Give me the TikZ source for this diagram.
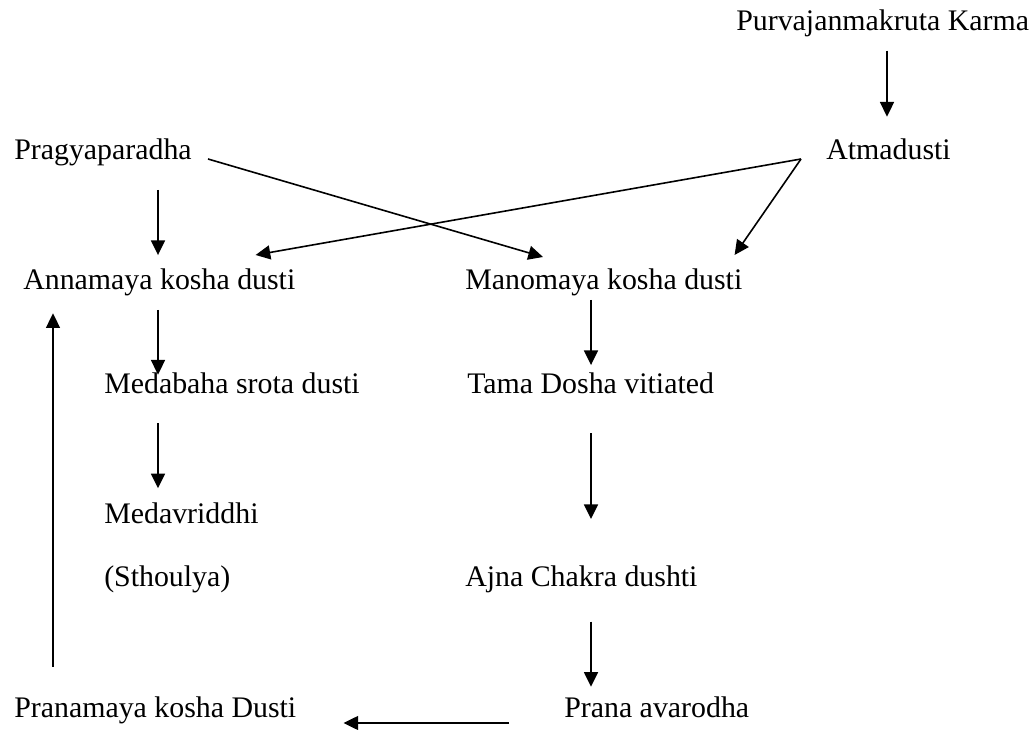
\documentclass[tikz,border=0pt]{standalone}
\usepackage{fontspec}
\setmainfont{Liberation Serif}
\usetikzlibrary{arrows.meta}

\tikzset{
  stage/.style={anchor=base west, inner sep=0pt, font=\fontsize{22.4}{27}\selectfont},
  flow/.style={-{Triangle[length=11pt,width=10.5pt]}, line width=1.2pt},
}

\begin{document}
\begin{tikzpicture}[x=0.75pt, y=-0.75pt]
\useasboundingbox (0,0) rectangle (1032,730);
% stages
\node[stage] (purva) at (736,31) {Purvajanmakruta Karma};
\node[stage] (atma) at (826,160) {Atmadusti};
\node[stage] (prag) at (14,160) {Pragyaparadha};
\node[stage] (anna) at (23,290) {Annamaya kosha dusti};
\node[stage] (mano) at (465,290) {Manomaya kosha dusti};
\node[stage] (meda) at (104,394) {Medabaha srota dusti};
\node[stage] (tama) at (467,394) {Tama Dosha vitiated};
\node[stage] (vriddhi) at (104,524) {Medavriddhi};
\node[stage] (sthoulya) at (104,587) {(Sthoulya)};
\node[stage] (ajna) at (465,587) {Ajna Chakra dushti};
\node[stage] (pranam) at (14,717) {Pranamaya kosha Dusti};
\node[stage] (prana) at (564,717) {Prana avarodha};
% arrow columns
\coordinate (colL) at (53,0);
\coordinate (colA) at (158,0);
\coordinate (colB) at (591,0);
\coordinate (colC) at (887,0);
% vertical arrows
\draw[flow, shorten <=14.8pt, shorten >=32.5pt] (purva.base -| colC) -- (atma.base -| colC);
\draw[flow, shorten <=22.5pt, shorten >=26.2pt] (prag.base -| colA) -- (anna.base -| colA);
\draw[flow, shorten <=15pt, shorten >=14.5pt] (anna.base -| colA) -- (meda.base -| colA);
\draw[flow, shorten <=22pt, shorten >=26.8pt] (meda.base -| colA) -- (vriddhi.base -| colA);
\draw[flow, shorten <=7.5pt, shorten >=21.7pt] (mano.base -| colB) -- (tama.base -| colB);
\draw[flow, shorten <=29.5pt, shorten >=51pt] (tama.base -| colB) -- (ajna.base -| colB);
\draw[flow, shorten <=26pt, shorten >=22.7pt] (ajna.base -| colB) -- (prana.base -| colB);
\draw[flow, shorten <=37.7pt, shorten >=17.5pt] (pranam.base -| colL) -- (anna.base -| colL);
% crossing arrows
\draw[flow] ([shift={(16,-1)}]prag.base east) -- ([shift={(78,-33)}]mano.base west);
\draw[flow] ([shift={(-25,-1)}]atma.base west) -- ([shift={(-40,-35)}]anna.base east);
\draw[flow] ([shift={(-25,-1)}]atma.base west) -- ([shift={(-8,-35)}]mano.base east);
\draw[flow] ([shift={(-55,6)}]prana.base west) -- ([shift={(47,6)}]pranam.base east);
\end{tikzpicture}
\end{document}
